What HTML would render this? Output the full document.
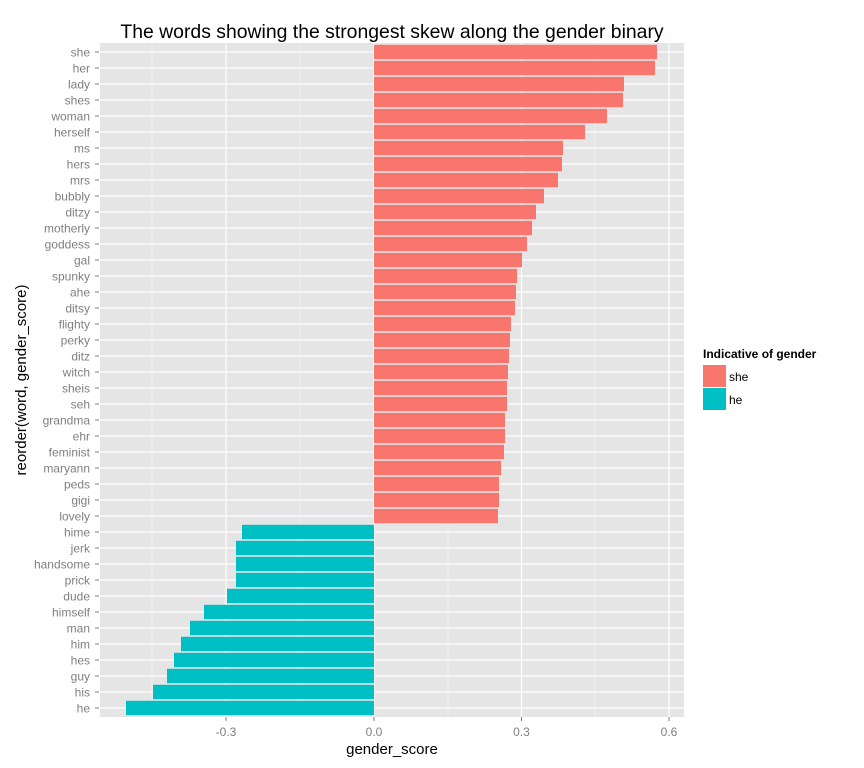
<!DOCTYPE html>
<html><head><meta charset="utf-8"><style>
html,body{margin:0;padding:0;background:#fff;}
svg{display:block;font-family:"Liberation Sans",sans-serif;}
</style></head><body>
<svg width="864" height="768" viewBox="0 0 864 768" xmlns="http://www.w3.org/2000/svg">
<rect x="0" y="0" width="864" height="768" fill="#fff"/>
<text x="392" y="38" font-size="19.4" text-anchor="middle" fill="#000">The words showing the strongest skew along the gender binary</text>
<rect x="100" y="43" width="584" height="674" fill="#e5e5e5"/>
<g stroke="#f2f2f2" stroke-width="0.8">
<line x1="152" y1="43" x2="152" y2="717"/><line x1="300" y1="43" x2="300" y2="717"/>
<line x1="448" y1="43" x2="448" y2="717"/><line x1="595" y1="43" x2="595" y2="717"/>
</g>
<g stroke="#fff" stroke-width="1.2">
<line x1="226" y1="43" x2="226" y2="717"/><line x1="374" y1="43" x2="374" y2="717"/>
<line x1="521.5" y1="43" x2="521.5" y2="717"/><line x1="669" y1="43" x2="669" y2="717"/>
</g>
<g id="rows" font-size="12" fill="#7f7f7f" text-anchor="end"></g>
<g font-size="12" fill="#7f7f7f" text-anchor="middle">
<text x="226" y="736">-0.3</text><text x="374" y="736">0.0</text><text x="521.5" y="736">0.3</text><text x="669" y="736">0.6</text>
</g>
<g stroke="#7f7f7f" stroke-width="1">
<line x1="226" y1="717" x2="226" y2="721"/><line x1="374" y1="717" x2="374" y2="721"/>
<line x1="521.5" y1="717" x2="521.5" y2="721"/><line x1="669" y1="717" x2="669" y2="721"/>
</g>
<text x="392" y="754" font-size="15" text-anchor="middle" fill="#000">gender_score</text>
<text transform="translate(26,380) rotate(-90)" font-size="15" text-anchor="middle" fill="#000">reorder(word, gender_score)</text>
<text x="703" y="358" font-size="12" font-weight="bold" fill="#000">Indicative of gender</text>
<rect x="703" y="365" width="23" height="22" fill="#f8766d"/>
<rect x="703" y="388" width="23" height="22" fill="#00bfc4"/>
<text x="729" y="381" font-size="12" fill="#000">she</text>
<text x="729" y="404" font-size="12" fill="#000">he</text>
</svg>
<script>
var d=[["she",657],["her",655],["lady",624],["shes",623],["woman",607],["herself",585],["ms",563],["hers",562],["mrs",558],["bubbly",544],["ditzy",536],["motherly",532],["goddess",527],["gal",522],["spunky",517],["ahe",516],["ditsy",515],["flighty",511],["perky",510],["ditz",509],["witch",508],["sheis",507],["seh",507],["grandma",505],["ehr",505],["feminist",504],["maryann",501],["peds",499],["gigi",499],["lovely",498],["hime",242],["jerk",236],["handsome",236],["prick",236],["dude",227],["himself",204],["man",190],["him",181],["hes",174],["guy",167],["his",153],["he",126]];
var g=document.getElementById("rows"),s="";
for(var i=0;i<d.length;i++){var y=52+16*i,e=d[i][1],x0=Math.min(374,e),w=Math.abs(e-374),c=e>374?"#f8766d":"#00bfc4";
s+='<line x1="100" x2="684" y1="'+y+'" y2="'+y+'" stroke="#fff" stroke-width="1.2"/>';
s+='<rect x="'+x0+'" y="'+(y-7.2)+'" width="'+w+'" height="14.4" fill="'+c+'"/>';
s+='<line x1="95" x2="99" y1="'+y+'" y2="'+y+'" stroke="#7f7f7f"/>';
s+='<text x="90" y="'+(y+4.3)+'">'+d[i][0]+'</text>';}
g.innerHTML=s;
</script>
</body></html>
